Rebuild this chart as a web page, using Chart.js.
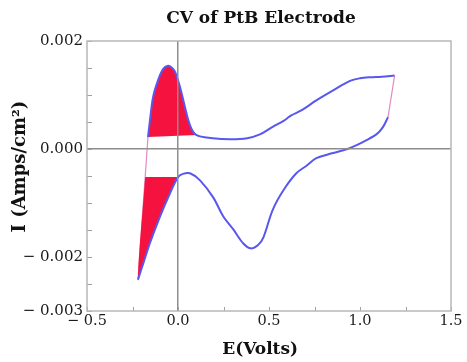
<!DOCTYPE html>
<html>
<head>
<meta charset="utf-8">
<script src="https://cdn.jsdelivr.net/npm/chart.js@4.4.0/dist/chart.umd.min.js"></script>
<style>
  body { margin: 0; background: #fff; }
  #wrap { width: 467px; height: 362px; }
</style>
</head>
<body>
<div id="wrap"><canvas id="cv"></canvas></div>
<script>
// forward (anodic) scan, E in volts, I in A/cm2
const anodicE = [-0.165, -0.154, -0.137, -0.11, -0.082, -0.055, -0.035, -0.016, 0.011, 0.038, 0.066, 0.10,
  0.19, 0.29, 0.38, 0.45, 0.52, 0.58, 0.60, 0.62, 0.68, 0.76, 0.85, 0.945, 1.00, 1.055, 1.12, 1.19]
const anodicI = [0.00022, 0.00053, 0.00096, 0.00127, 0.00148, 0.00154, 0.00151, 0.00143, 0.00115, 0.00078, 0.00044, 0.00026,
  0.00020, 0.00018, 0.00020, 0.00027, 0.00041, 0.00052, 0.00057, 0.00062, 0.00072, 0.00090, 0.00108, 0.00126, 0.00131, 0.00133, 0.00134, 0.00136]

// reverse (cathodic) scan
const cathodicE = [1.154, 1.125, 1.09, 1.01, 0.93, 0.846, 0.76, 0.71, 0.65, 0.58, 0.52, 0.47, 0.44, 0.40,
  0.359, 0.304, 0.249, 0.194, 0.121, 0.066, 0.027, 0.0, -0.044, -0.10, -0.154, -0.19, -0.22]
const cathodicI = [0.00059, 0.00040, 0.00027, 0.00012, 0.0, -0.00008, -0.00017, -0.00030, -0.00045, -0.00076, -0.00113, -0.00163, -0.00178, -0.00184,
  -0.00175, -0.00149, -0.00125, -0.00090, -0.00058, -0.00045, -0.00046, -0.00052, -0.00082, -0.00126, -0.00174, -0.00211, -0.00242]

const xLabels = [-0.5, 0.0, 0.5, 1.0, 1.5]
const yLabels = [0.002, 0.0, -0.002, -0.003]

const chartTitle = 'CV of PtB Electrode'

// build point lists
const pts = (xs, ys) => xs.map((v, i) => ({x: v, y: ys[i]}))
const anodic = pts(anodicE, anodicI)
const cathodic = pts(cathodicE, cathodicI)

// the two switching legs
const highSwitch = [anodic[anodic.length - 1], cathodic[0]]
const lowSwitch = [cathodic[cathodic.length - 1], anodic[0]]

// shaded peak on the forward scan (up to where it flattens)
const upperShade = anodic.filter(p => p.x <= 0.1)

// shaded region under the reverse scan, closed along the level at E = 0
const i0 = cathodicE.indexOf(0.0)
const level = cathodicI[i0]
const a = lowSwitch[0], b = lowSwitch[1]
const t = (level - a.y) / (b.y - a.y)
const lowerShade = cathodic.slice(i0).concat([{x: a.x + t * (b.x - a.x), y: level}])

const near = (v, list) => list.some(l => Math.abs(l - v) < 1e-9)
const fmt = (v, d) => v < -1e-12 ? '\u2212 ' + Math.abs(v).toFixed(d) : Math.abs(v).toFixed(d)

const BLUE = '#5858ee'
const RED = '#f5123e'
const PINK = '#e38ac6'

const framePlugin = {
  id: 'framePlugin',
  afterDraw(chart) {
    const {ctx, chartArea: ar, scales: {x, y}} = chart
    ctx.save()
    ctx.strokeStyle = '#a0a0a0'
    ctx.lineWidth = 1
    x.ticks.forEach(tk => {
      const px = Math.round(x.getPixelForValue(tk.value)) + 0.5
      ctx.beginPath(); ctx.moveTo(px, ar.bottom); ctx.lineTo(px, ar.bottom - 4); ctx.stroke()
    })
    y.ticks.forEach(tk => {
      const py = Math.round(y.getPixelForValue(tk.value)) + 0.5
      ctx.beginPath(); ctx.moveTo(ar.left, py); ctx.lineTo(ar.left + 5, py); ctx.stroke()
    })
    ctx.strokeStyle = '#b8b8b8'
    ctx.lineWidth = 1.5
    ctx.strokeRect(ar.left, ar.top, ar.right - ar.left, ar.bottom - ar.top)

    ctx.fillStyle = '#111'
    ctx.font = 'bold 17px "DejaVu Serif"'
    ctx.textAlign = 'center'
    ctx.textBaseline = 'alphabetic'
    ctx.fillText(chartTitle, (ar.left + ar.right) / 2 - 8, 23)
    ctx.restore()
  }
}

new Chart(document.getElementById('cv'), {
  type: 'scatter',
  data: {
    datasets: [
      { label: 'forward', data: anodic, showLine: true, borderColor: BLUE, borderWidth: 2,
        pointRadius: 0, tension: 0.35, order: 1 },
      { label: 'reverse', data: cathodic, showLine: true, borderColor: BLUE, borderWidth: 2,
        pointRadius: 0, tension: 0.35, order: 1 },
      { label: 'switch+', data: highSwitch, showLine: true, borderColor: PINK, borderWidth: 1.2,
        pointRadius: 0, order: 3 },
      { label: 'switch-', data: lowSwitch, showLine: true, borderColor: PINK, borderWidth: 1.2,
        pointRadius: 0, order: 3 },
      { label: 'peak area', data: upperShade, showLine: true, borderWidth: 0, borderColor: RED,
        backgroundColor: RED, fill: 'shape', pointRadius: 0, tension: 0.35, order: 2 },
      { label: 'reverse area', data: lowerShade, showLine: true, borderWidth: 0, borderColor: RED,
        backgroundColor: RED, fill: 'shape', pointRadius: 0, tension: 0.35, order: 2 }
    ]
  },
  options: {
    responsive: true,
    maintainAspectRatio: false,
    animation: false,
    layout: { padding: { top: 41, right: 16, left: 0, bottom: 0 } },
    plugins: {
      legend: { display: false },
      tooltip: { enabled: false }
    },
    scales: {
      x: {
        type: 'linear',
        min: -0.5,
        max: 1.5,
        afterFit: s => { s.height = 51 },
        ticks: {
          stepSize: 0.25,
          autoSkip: false,
          maxRotation: 0,
          padding: 2,
          color: '#1a1a1a',
          font: { family: 'DejaVu Serif', size: 14.5 },
          callback: v => near(v, xLabels) ? fmt(v, 1) : ''
        },
        grid: {
          z: 1,
          drawTicks: false,
          lineWidth: 1.5,
          color: c => c.tick && Math.abs(c.tick.value) < 1e-9 ? '#8e8e8e' : 'rgba(0,0,0,0)'
        },
        border: { display: false },
        title: {
          display: true,
          text: 'E(Volts)   ',
          color: '#111',
          padding: { top: 0, bottom: 2 },
          font: { family: 'DejaVu Serif', size: 17, weight: 'bold' }
        }
      },
      y: {
        type: 'linear',
        min: -0.003,
        max: 0.002,
        afterFit: s => { s.width = 87 },
        afterBuildTicks: s => {
          const list = []
          for (let k = 0; k <= 10; k++) list.push({ value: +(-0.003 + k * 0.0005).toFixed(4) })
          s.ticks = list
        },
        ticks: {
          autoSkip: false,
          padding: 4,
          color: '#1a1a1a',
          font: { family: 'DejaVu Serif', size: 15 },
          callback: v => near(v, yLabels) ? fmt(v, 3) : ''
        },
        grid: {
          z: 1,
          drawTicks: false,
          lineWidth: 1.5,
          color: c => c.tick && Math.abs(c.tick.value) < 1e-9 ? '#8e8e8e' : 'rgba(0,0,0,0)'
        },
        border: { display: false },
        title: {
          display: true,
          text: '   I (Amps/cm\u00b2)',
          color: '#111',
          padding: { top: 10, bottom: 0 },
          font: { family: 'DejaVu Serif', size: 18, weight: 'bold' }
        }
      }
    }
  },
  plugins: [framePlugin]
})
</script>
</body>
</html>
